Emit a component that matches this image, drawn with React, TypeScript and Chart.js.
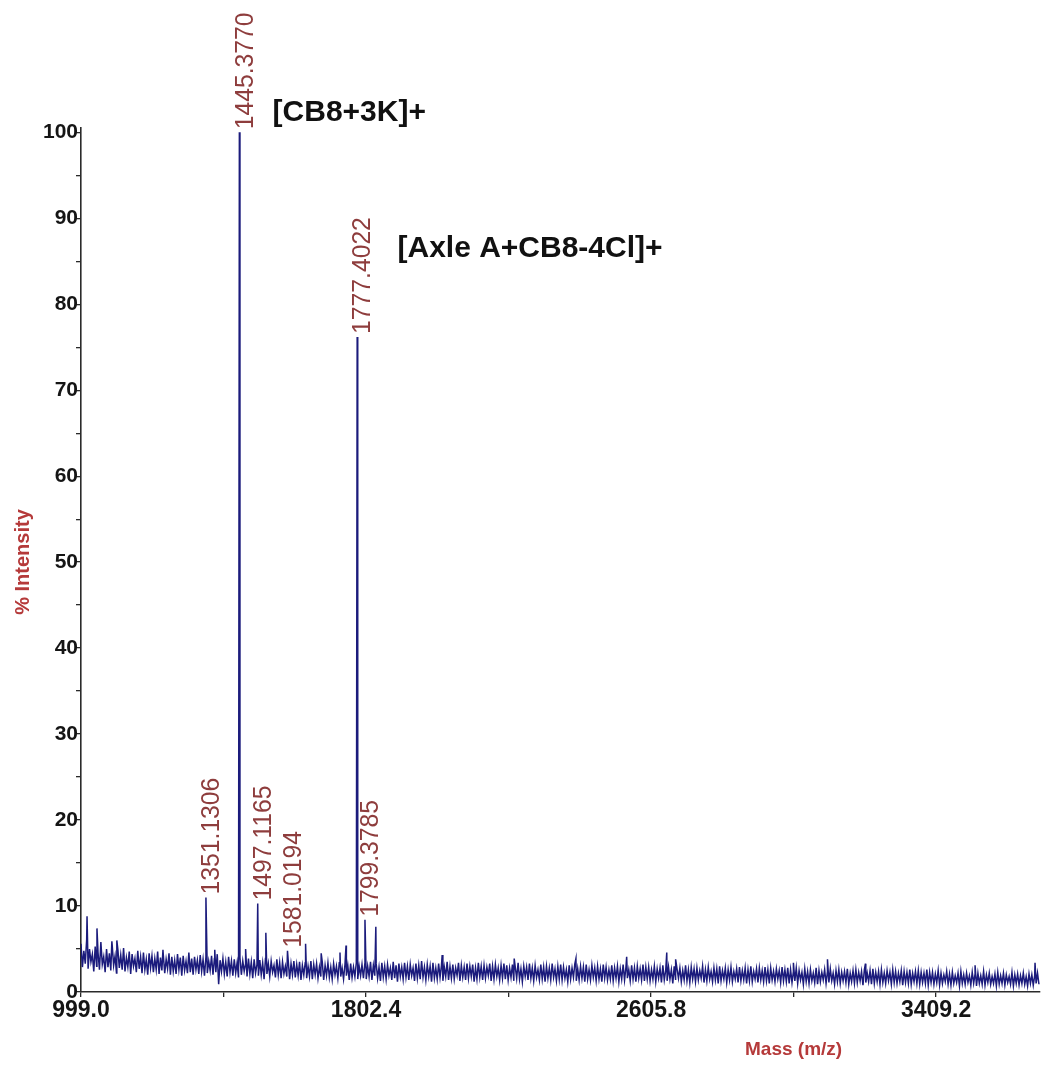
import React, { useEffect, useRef } from 'react';
import { Chart, registerables } from 'chart.js';

Chart.register(...registerables);

// ---- Data ----
const peakMasses = [1351.1306, 1445.377, 1497.1165, 1581.0194, 1777.4022, 1799.3785];
const peakIntensities = [11.0, 100, 10.3, 4.8, 76.2, 8.4];
const peakLabels = ['1351.1306', '1445.3770', '1497.1165', '1581.0194', '1777.4022', '1799.3785'];

const spikeMasses = [1016, 1044, 1086, 1100, 1230, 1376, 1463, 1520, 1632, 1676, 1729, 1746, 1830, 2017, 2220, 2394, 2537, 2650, 2675, 3007, 3103, 3210, 3519, 3688];
const spikeIntensities = [8.8, 7.4, 5.9, 6.0, 4.9, 4.9, 5.0, 6.9, 5.6, 4.5, 4.6, 5.4, 7.6, 4.3, 3.9, 3.9, 4.1, 4.6, 3.8, 3.4, 3.8, 3.3, 3.1, 3.4];

// baseline noise, sampled every noiseStep m/z from each segment start
const noiseStep = 4;
const noiseStartA = 999;
const noiseA = [
  5.6, 2.9, 4.8, 3.3, 6.1, 2.7, 5.0, 3.5, 4.4, 2.4,
  5.3, 3.0, 4.6, 2.6, 5.8, 3.2, 4.1, 2.3, 5.0, 2.9,
  4.5, 2.5, 5.4, 3.1, 4.2, 2.2, 4.9, 2.8, 4.3, 2.6,
  5.1, 2.4, 4.0, 2.9, 4.7, 2.1, 4.4, 3.0, 3.9, 2.3,
  4.8, 2.7, 4.1, 2.2, 4.6, 2.6, 3.8, 2.0, 4.5, 2.8,
  4.2, 2.3, 3.9, 2.6, 4.7, 2.1, 4.0, 2.5, 4.3, 2.2,
  3.8, 2.7, 4.5, 2.0, 4.1, 2.4, 3.7, 2.1, 4.4, 2.6,
  4.0, 1.9, 4.2, 2.5, 3.6, 2.2, 4.6, 2.3, 3.9, 2.0,
  4.1, 2.6, 3.7, 2.1, 4.3, 2.4, 3.8, 1.9, 4.0, 2.2,
  3.6, 2.5, 4.2, 2.0, 3.9, 2.3, 4.4, 0.9, 3.7, 2.4,
];
const noiseStartB = 1399;
const noiseB = [
  3.9, 2.1, 3.5, 1.8, 4.1, 2.3, 3.6, 1.9, 3.8, 2.2,
  3.4, 1.7, 4.0, 2.0, 3.6, 2.4, 3.3, 1.8, 3.9, 2.1,
  3.5, 1.6, 3.8, 2.2, 3.2, 1.9, 3.7, 2.0, 3.4, 1.5,
  3.9, 2.1, 3.3, 1.8, 3.6, 2.3, 3.1, 1.7, 3.8, 2.0,
  3.4, 1.6, 3.5, 2.1, 3.0, 1.8, 3.7, 1.5, 3.3, 2.0,
  3.6, 1.7, 3.2, 1.9, 3.5, 1.4, 3.1, 2.0, 3.4, 1.6,
  3.0, 1.8, 3.6, 1.5, 3.2, 2.0, 3.3, 1.6, 2.9, 1.8,
  3.5, 1.4, 3.1, 1.9, 3.4, 1.7, 2.9, 1.5, 3.3, 2.0,
  3.0, 1.6, 3.4, 1.8, 2.8, 1.5, 3.2, 1.9, 3.1, 1.4,
  3.3, 1.7, 2.9, 1.8, 3.4, 1.5, 3.0, 1.9, 3.2, 1.6,
];
const noiseStartC = 1799;
const noiseC = [
  3.3, 1.5, 3.0, 1.8, 3.5, 1.4, 3.1, 1.9, 3.3, 1.6,
  2.9, 1.3, 3.4, 1.7, 3.0, 1.5, 3.2, 1.9, 2.8, 1.4,
  3.5, 1.6, 3.1, 1.2, 3.3, 1.8, 2.9, 1.5, 3.4, 1.7,
  3.0, 1.4, 3.2, 1.9, 2.8, 1.3, 3.3, 1.6, 3.1, 1.5,
  3.6, 1.7, 2.9, 1.4, 3.2, 1.8, 3.0, 1.2, 3.4, 1.6,
  2.8, 1.5, 3.3, 1.7, 3.1, 1.3, 2.9, 1.8, 3.5, 1.4,
  3.0, 1.6, 3.2, 1.5, 2.8, 1.9, 3.4, 1.3, 3.1, 1.7,
  2.9, 1.4, 3.3, 1.6, 3.0, 1.8, 3.2, 1.2, 2.8, 1.5,
  3.4, 1.7, 3.0, 1.4, 3.1, 1.6, 2.9, 1.9, 3.3, 1.3,
  3.0, 1.5, 3.2, 1.8, 2.8, 1.4, 3.1, 1.6, 3.3, 1.5,
];
const noiseStartD = 2199;
const noiseD = [
  3.1, 1.4, 2.8, 1.7, 3.2, 1.3, 2.9, 1.6, 3.4, 1.5,
  2.7, 1.2, 3.0, 1.8, 2.9, 1.4, 3.3, 1.6, 2.8, 1.3,
  3.1, 1.7, 2.6, 1.4, 3.2, 1.5, 2.9, 1.2, 3.0, 1.6,
  2.8, 1.4, 3.3, 1.7, 2.7, 1.3, 3.0, 1.5, 3.2, 1.4,
  2.9, 1.6, 2.6, 1.2, 3.1, 1.5, 2.8, 1.7, 3.3, 1.3,
  2.7, 1.4, 3.0, 1.6, 2.9, 1.2, 3.2, 1.5, 2.6, 1.4,
  3.1, 1.7, 2.8, 1.3, 3.0, 1.5, 2.7, 1.2, 3.2, 1.6,
  2.9, 1.4, 2.6, 1.5, 3.1, 1.3, 2.8, 1.6, 3.0, 1.2,
  2.7, 1.5, 3.2, 1.4, 2.9, 1.6, 2.6, 1.3, 3.1, 1.5,
  2.8, 1.2, 3.0, 1.6, 2.7, 1.4, 3.2, 1.3, 2.9, 1.5,
];
const noiseStartE = 2599;
const noiseE = [
  2.9, 1.3, 2.6, 1.5, 3.0, 1.2, 2.7, 1.6, 2.8, 1.1,
  3.1, 1.4, 2.5, 1.3, 2.9, 1.5, 2.6, 1.0, 3.0, 1.4,
  2.7, 1.6, 2.8, 1.2, 2.5, 1.4, 3.1, 1.3, 2.6, 1.1,
  2.9, 1.5, 2.7, 1.2, 2.8, 1.4, 2.5, 1.6, 3.0, 1.1,
  2.6, 1.3, 2.9, 1.5, 2.4, 1.2, 2.8, 1.4, 2.7, 1.0,
  3.0, 1.3, 2.5, 1.5, 2.8, 1.1, 2.6, 1.4, 2.9, 1.2,
  2.4, 1.5, 2.7, 1.1, 2.9, 1.3, 2.5, 1.4, 2.8, 1.0,
  2.6, 1.3, 3.0, 1.2, 2.4, 1.5, 2.7, 1.1, 2.8, 1.4,
  2.5, 1.2, 2.9, 1.3, 2.6, 1.0, 2.8, 1.4, 2.4, 1.2,
  2.7, 1.5, 2.5, 1.1, 2.9, 1.3, 2.6, 1.2, 2.8, 1.0,
];
const noiseStartF = 2999;
const noiseF = [
  2.6, 1.1, 2.4, 1.3, 2.8, 1.0, 2.5, 1.4, 2.3, 0.9,
  2.7, 1.2, 2.4, 1.0, 2.6, 1.3, 2.2, 1.1, 2.8, 0.9,
  2.5, 1.2, 2.3, 1.4, 2.6, 1.0, 2.4, 1.1, 2.7, 1.3,
  2.2, 0.9, 2.5, 1.2, 2.6, 1.0, 2.3, 1.3, 2.4, 1.1,
  2.7, 0.9, 2.2, 1.2, 2.5, 1.0, 2.6, 1.1, 2.3, 1.3,
  2.4, 0.8, 2.6, 1.1, 2.2, 1.2, 2.5, 0.9, 2.7, 1.0,
  2.3, 1.2, 2.4, 0.9, 2.6, 1.1, 2.2, 1.0, 2.5, 1.3,
  2.3, 0.9, 2.6, 1.1, 2.4, 1.0, 2.2, 1.2, 2.5, 0.8,
  2.4, 1.1, 2.3, 1.0, 2.6, 0.9, 2.2, 1.2, 2.4, 1.0,
  2.5, 0.9, 2.3, 1.1, 2.2, 1.0, 2.6, 0.8, 2.3, 1.1,
];
const noiseStartG = 3399;
const noiseG = [
  2.3, 0.9, 2.1, 1.1, 2.5, 0.8, 2.2, 1.0, 2.0, 1.2,
  2.4, 0.9, 2.1, 0.8, 2.3, 1.0, 1.9, 1.1, 2.2, 0.7,
  2.4, 1.0, 2.0, 0.9, 2.2, 1.1, 1.9, 0.8, 2.3, 1.0,
  2.1, 0.7, 2.2, 1.0, 1.9, 0.9, 2.4, 0.8, 2.0, 1.1,
  2.2, 0.9, 1.8, 1.0, 2.1, 0.7, 2.3, 0.9, 1.9, 1.0,
  2.2, 0.8, 2.0, 1.1, 1.8, 0.9, 2.3, 0.7, 2.0, 1.0,
  2.1, 0.8, 1.9, 1.0, 2.2, 0.9, 1.8, 0.7, 2.1, 1.0,
  2.0, 0.8, 1.9, 1.0, 2.2, 0.9,
];

// axis ticks
const xMin = 999;
const xMax = 3702;
const xTickValues = [999.0, 1400.7, 1802.4, 2204.1, 2605.8, 3007.5, 3409.2];
const xTickLabels = ['999.0', '', '1802.4', '', '2605.8', '', '3409.2'];
const yMin = 0;
const yMax = 100.5;
const yTickValues = [0, 5, 10, 15, 20, 25, 30, 35, 40, 45, 50, 55, 60, 65, 70, 75, 80, 85, 90, 95, 100];
const yTickLabels = ['0', '', '10', '', '20', '', '30', '', '40', '', '50', '', '60', '', '70', '', '80', '', '90', '', '100'];

// text annotations (anchored in data space)
const annotationTexts = ['[CB8+3K]+', '[Axle A+CB8-4Cl]+'];
const annotationMasses = [1539, 1891];
const annotationIntensities = [102.3, 86.5];

const xTitle = 'Mass (m/z)';
const yTitle = '% Intensity';
const xTitleMass = 3007.5;

const SPECTRUM_COLOR = '#1b1b7c';
const PEAK_LABEL_COLOR = '#8e3d3d';
const TITLE_COLOR = '#b53a3a';
const AXIS_COLOR = '#2a2a2a';
const FONT = '"Liberation Sans", Arial, Helvetica, sans-serif';

function buildPoints() {
  const pts: { x: number; y: number }[] = [];
  const segs: [number, number[]][] = [
    [noiseStartA, noiseA],
    [noiseStartB, noiseB],
    [noiseStartC, noiseC],
    [noiseStartD, noiseD],
    [noiseStartE, noiseE],
    [noiseStartF, noiseF],
    [noiseStartG, noiseG],
  ];
  segs.forEach(([start, vals]) => {
    vals.forEach((v, i) => pts.push({ x: start + i * noiseStep, y: v }));
  });
  spikeMasses.forEach((m, i) => pts.push({ x: m, y: spikeIntensities[i] }));
  peakMasses.forEach((m, i) => pts.push({ x: m, y: peakIntensities[i] }));
  pts.sort((a, b) => a.x - b.x);
  return pts;
}

const textPlugin = {
  id: 'spectrumText',
  afterDraw(chart: any) {
    const { ctx } = chart;
    const xs = chart.scales.x;
    const ys = chart.scales.y;
    ctx.save();
    // peak labels, vertical
    ctx.fillStyle = PEAK_LABEL_COLOR;
    ctx.font = `26px ${FONT}`;
    ctx.textAlign = 'left';
    ctx.textBaseline = 'middle';
    peakMasses.forEach((m, i) => {
      const px = xs.getPixelForValue(m);
      const py = ys.getPixelForValue(peakIntensities[i]);
      ctx.save();
      ctx.translate(px + 6, py - 3);
      ctx.rotate(-Math.PI / 2);
      ctx.scale(0.95, 1);
      ctx.fillText(peakLabels[i], 0, 0);
      ctx.restore();
    });
    // annotations
    ctx.fillStyle = '#111111';
    ctx.font = `bold 30px ${FONT}`;
    annotationTexts.forEach((t, i) => {
      ctx.fillText(t, xs.getPixelForValue(annotationMasses[i]), ys.getPixelForValue(annotationIntensities[i]));
    });
    // axis titles
    ctx.fillStyle = TITLE_COLOR;
    ctx.font = `bold 20px ${FONT}`;
    ctx.textAlign = 'center';
    ctx.save();
    ctx.translate(23, (chart.chartArea.top + chart.chartArea.bottom) / 2 + 2);
    ctx.rotate(-Math.PI / 2);
    ctx.fillText(yTitle, 0, 0);
    ctx.restore();
    ctx.font = `bold 19px ${FONT}`;
    ctx.fillText(xTitle, xs.getPixelForValue(xTitleMass), 1050);
    ctx.restore();
  },
};

export default function App() {
  const canvasRef = useRef<HTMLCanvasElement | null>(null);

  useEffect(() => {
    const canvas = canvasRef.current;
    if (!canvas) return;
    const chart = new Chart(canvas, {
      type: 'line',
      data: {
        datasets: [
          {
            data: buildPoints(),
            borderColor: SPECTRUM_COLOR,
            borderWidth: 1.5,
            pointRadius: 0,
            fill: false,
            tension: 0,
          },
        ],
      },
      options: {
        animation: false,
        responsive: false,
        devicePixelRatio: 1,
        events: [],
        layout: { padding: { top: 128, right: 4, left: 0, bottom: 0 } },
        plugins: { legend: { display: false }, tooltip: { enabled: false } },
        scales: {
          x: {
            type: 'linear',
            min: xMin,
            max: xMax,
            afterBuildTicks: (s: any) => {
              s.ticks = xTickValues.map((v) => ({ value: v }));
            },
            afterFit: (s: any) => {
              s.height = 76;
            },
            ticks: {
              autoSkip: false,
              maxRotation: 0,
              padding: 0,
              color: '#151515',
              font: { family: FONT, size: 23, weight: 'bold' },
              callback: (v: any) => {
                const i = xTickValues.findIndex((t) => Math.abs(t - v) < 0.01);
                return i >= 0 ? xTickLabels[i] : '';
              },
            },
            grid: { display: true, drawOnChartArea: false, tickLength: 5, color: AXIS_COLOR, lineWidth: 1.3 },
            border: { display: true, color: AXIS_COLOR, width: 1.6 },
          },
          y: {
            type: 'linear',
            min: yMin,
            max: yMax,
            afterBuildTicks: (s: any) => {
              s.ticks = yTickValues.map((v) => ({ value: v }));
            },
            afterFit: (s: any) => {
              s.width = 81;
            },
            ticks: {
              autoSkip: false,
              padding: -2,
              color: '#151515',
              font: { family: FONT, size: 21, weight: 'bold' },
              callback: (v: any) => {
                const i = yTickValues.findIndex((t) => Math.abs(t - v) < 0.01);
                return i >= 0 ? yTickLabels[i] : '';
              },
            },
            grid: { display: true, drawOnChartArea: false, tickLength: 5, color: AXIS_COLOR, lineWidth: 1.3 },
            border: { display: true, color: AXIS_COLOR, width: 1.6 },
          },
        },
      },
      plugins: [textPlugin],
    });
    return () => chart.destroy();
  }, []);

  return (
    <div style={{ position: 'fixed', left: 0, top: 0, width: 1044, height: 1068, background: '#ffffff' }}>
      <canvas ref={canvasRef} width={1044} height={1068} style={{ display: 'block' }} />
    </div>
  );
}
